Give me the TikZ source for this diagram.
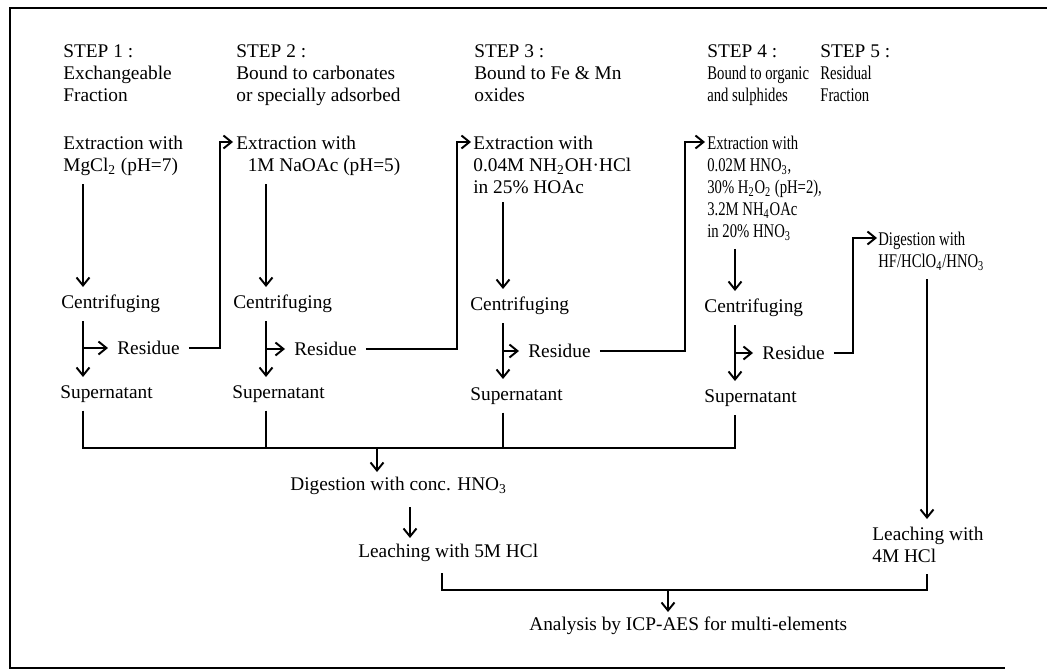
\documentclass[tikz,border=0pt]{standalone}
\usepackage{fontspec}
\setmainfont{Liberation Serif}
\newfontfamily\narrowserif[FakeStretch=0.76]{Liberation Serif}
\usetikzlibrary{arrows.meta,calc,positioning}
\tikzset{
  lbl/.style     = {inner sep=0pt, align=left, anchor=north west,
                    font=\fontsize{11}{12.5}\selectfont},
  nlbl/.style    = {lbl, font=\fontsize{11}{12.5}\narrowserif},
  resid/.style   = {lbl, anchor=west, inner xsep=1.8mm},
  link/.style    = {line width=1.1pt},
  arr/.style     = {link, -{Straight Barb[length=1.6mm,width=2.6mm]}},
  flow/.style    = {arr, shorten <=1.6mm, shorten >=1.6mm},
  boxline/.style = {line width=1.6pt},
}

\begin{document}
\begin{tikzpicture}[x=0.02cm, y=-0.02cm]
\useasboundingbox (0,0) rectangle (1047,672);
\draw[boxline] (1047,8) -- (10,8) -- (10,668) -- (1005,668);

% step headings
\node[lbl] (s1) at (63,44) {STEP 1 :\\Exchangeable\\Fraction};
\node[lbl] (s2) at (236,44) {STEP 2 :\\Bound to carbonates\\or specially adsorbed};
\node[lbl] (s3) at (474,44) {STEP 3 :\\Bound to Fe \& Mn\\oxides};
\node[nlbl] (s4) at (707,44) {{\rmfamily STEP 4 :}\\Bound to organic\\and sulphides};
\node[nlbl] (s5) at (820,44) {{\rmfamily STEP 5 :}\\Residual\\Fraction};

% extractions
\node[lbl] (ex1) at (63,136) {Extraction with\\MgCl\textsubscript{2} (pH=7)};
\node[lbl] (ex2) at (236,136) {Extraction with\\\hspace*{6.5pt}1M NaOAc (pH=5)};
\node[lbl] (ex3) at (473,136) {Extraction with\\0.04M NH\textsubscript{2}OH·HCl\\in 25\% HOAc};
\node[nlbl] (ex4) at (707,136) {Extraction with\\0.02M HNO\textsubscript{3},\\30\% H\textsubscript{2}O\textsubscript{2} (pH=2),\\3.2M NH\textsubscript{4}OAc\\in 20\% HNO\textsubscript{3}};

\node[lbl] (cf1) at (61,295) {Centrifuging};
\node[lbl] (cf2) at (233,295) {Centrifuging};
\node[lbl] (cf3) at (470,297) {Centrifuging};
\node[lbl] (cf4) at (704,299) {Centrifuging};

\node[resid] (re1) at (108,348) {Residue};
\node[resid] (re2) at (285,349) {Residue};
\node[resid] (re3) at (519,351) {Residue};
\node[resid] (re4) at (753,353) {Residue};

\node[lbl] (su1) at (60,385) {Supernatant};
\node[lbl] (su2) at (232,385) {Supernatant};
\node[lbl] (su3) at (470,387) {Supernatant};
\node[lbl] (su4) at (704,389) {Supernatant};

% residual fraction and final steps
\node[nlbl] (dg5) at (878,232) {Digestion with\\HF/HClO\textsubscript{4}/HNO\textsubscript{3}};
\node[lbl] (lc5) at (872,527) {Leaching with\\4M HCl};
\node[lbl] (dg) at (290,477) {Digestion with conc. HNO\textsubscript{3}};
\node[lbl] (lc) at (358,544) {Leaching with 5M HCl};
\node[lbl] (an) at (529,617) {Analysis by ICP-AES for multi-elements};

\coordinate (c1) at (83,0);
\coordinate (c2) at (266,0);
\coordinate (c3) at (503,0);
\coordinate (c4) at (735,0);
\coordinate (c5) at (927,0);
\coordinate (cd) at (377,0);
\coordinate (cl) at (410,0);
\coordinate (cb) at (442,0);
\coordinate (ca) at (668,0);
\coordinate (bus1) at (0,448);
\coordinate (bus2) at (0,590);
\coordinate (t1) at (220,250);
\coordinate (t2) at (457,250);
\coordinate (t3) at (685,250);
\coordinate (t4) at (853,300);

\draw[flow] (ex1.south -| c1) -- (cf1.north -| c1);
\draw[flow] (cf1.south -| c1) -- (su1.north -| c1);
\draw[arr] (c1 |- re1) -- (re1.west);
\draw[flow] (ex2.south -| c2) -- (cf2.north -| c2);
\draw[flow] (cf2.south -| c2) -- (su2.north -| c2);
\draw[arr] (c2 |- re2) -- (re2.west);
\draw[flow] (ex3.south -| c3) -- (cf3.north -| c3);
\draw[flow] (cf3.south -| c3) -- (su3.north -| c3);
\draw[arr] (c3 |- re3) -- (re3.west);
\draw[flow] (ex4.south -| c4) -- (cf4.north -| c4);
\draw[flow] (cf4.south -| c4) -- (su4.north -| c4);
\draw[arr] (c4 |- re4) -- (re4.west);

% residue goes on to the next step
\draw[arr] (re1.east) -| (t1) |- ([shift={(-3,6)}]ex2.north west);
\draw[arr] (re2.east) -| (t2) |- ([shift={(-2,6)}]ex3.north west);
\draw[arr] (re3.east) -| (t3) |- ([shift={(-2,6)}]ex4.north west);
\draw[arr] (re4.east) -| (t4) |- ([shift={(-1,6)}]dg5.north west);

% supernatants collected
\draw[link, shorten <=1.6mm, shorten >=1.6mm] (su1.south -| c1) |- (c4 |- bus1) -- (su4.south -| c4);
\draw[link, shorten <=1.6mm] (su2.south -| c2) -- (c2 |- bus1);
\draw[link, shorten <=1.6mm] (su3.south -| c3) -- (c3 |- bus1);
\draw[arr, shorten >=1mm] (cd |- bus1) -- (dg.north -| cd);
\draw[arr, shorten <=2.4mm, shorten >=1.2mm] (dg.south -| cl) -- (lc.north -| cl);
\draw[flow] (dg5.south -| c5) -- (lc5.north -| c5);
\draw[link, shorten <=2.2mm, shorten >=2.2mm] (lc.south -| cb) |- (c5 |- bus2) -- (lc5.south -| c5);
\draw[arr, shorten >=1mm] (ca |- bus2) -- (an.north -| ca);
\end{tikzpicture}
\end{document}
